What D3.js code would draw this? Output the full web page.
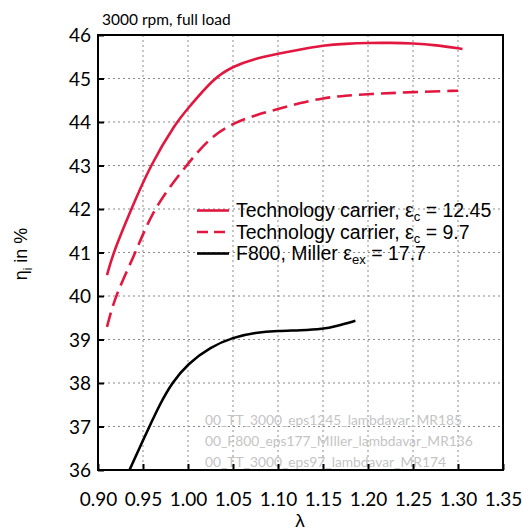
<!DOCTYPE html>
<html>
<head>
<meta charset="utf-8">
<script src="https://cdn.jsdelivr.net/npm/d3@7"></script>
<style>
  html, body { margin: 0; padding: 0; background: #fff; }
  svg { display: block; }
</style>
</head>
<body>
<svg id="chart" width="523" height="530"></svg>
<script>
// Indicated efficiency versus air ratio, 3000 rpm full load
const xTicks = [0.90, 0.95, 1.00, 1.05, 1.10, 1.15, 1.20, 1.25, 1.30, 1.35];
const yTicks = [36, 37, 38, 39, 40, 41, 42, 43, 44, 45, 46];

// Technology carrier, eps_c = 12.45
const lambdaTC1245 = [0.910, 0.917, 0.937, 0.958, 0.987, 1.000, 1.028, 1.050, 1.075, 1.100, 1.125, 1.150, 1.175, 1.200, 1.225, 1.250, 1.275, 1.305];
const etaTC1245    = [40.48, 41.00, 42.00, 43.00, 44.00, 44.31, 45.00, 45.28, 45.46, 45.57, 45.67, 45.76, 45.80, 45.82, 45.82, 45.81, 45.77, 45.68];

// Technology carrier, eps_c = 9.7
const lambdaTC97 = [0.910, 0.919, 0.942, 0.961, 0.998, 1.025, 1.050, 1.075, 1.100, 1.125, 1.150, 1.175, 1.200, 1.250, 1.300];
const etaTC97    = [39.29, 40.00, 41.00, 42.00, 43.00, 43.66, 43.97, 44.16, 44.30, 44.44, 44.55, 44.61, 44.64, 44.69, 44.72];

// F800, Miller eps_ex = 17.7
const lambdaF800 = [0.935, 0.957, 0.970, 0.982, 1.000, 1.025, 1.050, 1.075, 1.100, 1.125, 1.150, 1.165, 1.186];
const etaF800    = [36.00, 37.00, 37.56, 38.00, 38.45, 38.83, 39.05, 39.16, 39.20, 39.21, 39.24, 39.31, 39.43];

const fileNames = [
  "00_TT_3000_eps1245_lambdavar_MR185",
  "00_F800_eps177_MIller_lambdavar_MR136",
  "00_TT_3000_eps97_lambdavar_MR174"
];

const RED = "#e2173f";
const series = [
  { x: lambdaTC1245, y: etaTC1245, color: RED, dash: null, main: "Technology carrier, ε", sub: "c", tail: " = 12.45" },
  { x: lambdaTC97,   y: etaTC97,   color: RED, dash: "15,7", main: "Technology carrier, ε", sub: "c", tail: " = 9.7" },
  { x: lambdaF800,   y: etaF800,   color: "#000", dash: null, main: "F800, Miller ε", sub: "ex", tail: " = 17.7" }
];

const svg = d3.select("#chart");
const m = { left: 98, right: 503, top: 35, bottom: 470 };

const x = d3.scaleLinear().domain([0.90, 1.35]).range([m.left, m.right]);
const y = d3.scaleLinear().domain([36, 46]).range([m.bottom, m.top]);

const tickFont = "Lato, 'Open Sans', sans-serif";
const legFont = "'Liberation Sans', Arial, sans-serif";

// grid
const grid = svg.append("g");
grid.selectAll("line.vx").data(xTicks.slice(1, -1)).join("line")
  .attr("x1", d => x(d)).attr("x2", d => x(d))
  .attr("y1", m.top).attr("y2", m.bottom)
  .attr("stroke", "#8a8a8a").attr("stroke-width", 1).attr("stroke-dasharray", "2,3");
grid.selectAll("line.hy").data(yTicks.slice(1, -1)).join("line")
  .attr("x1", m.left).attr("x2", m.right)
  .attr("y1", d => y(d)).attr("y2", d => y(d))
  .attr("stroke", "#8a8a8a").attr("stroke-width", 1).attr("stroke-dasharray", "2,3");

// file names
svg.append("g").selectAll("text").data(fileNames).join("text")
  .attr("x", 205).attr("y", (d, i) => 425 + i * 21)
  .attr("font-family", tickFont).attr("font-size", 13.8)
  .attr("fill", "#c4c4c4")
  .text(d => d);

// curves
const clipId = "plotclip";
svg.append("clipPath").attr("id", clipId).append("rect")
  .attr("x", m.left).attr("y", m.top).attr("width", m.right - m.left).attr("height", m.bottom - m.top);

const line = d3.line().x(d => x(d[0])).y(d => y(d[1])).curve(d3.curveBasis);
const curves = svg.append("g").attr("clip-path", `url(#${clipId})`);
series.forEach(s => {
  curves.append("path")
    .attr("d", line(s.x.map((v, i) => [v, s.y[i]])))
    .attr("fill", "none").attr("stroke", s.color).attr("stroke-width", 2.6)
    .attr("stroke-dasharray", s.dash);
});

// axes (ticks pointing inward)
const xAxis = d3.axisBottom(x).tickValues(xTicks).tickSize(-6).tickFormat(d3.format(".2f"));
const yAxis = d3.axisLeft(y).tickValues(yTicks).tickSize(-6).tickFormat(d3.format("d"));

const gx = svg.append("g").attr("transform", `translate(0,${m.bottom})`).call(xAxis);
gx.select(".domain").remove();
gx.selectAll(".tick line").attr("stroke", "#000").attr("stroke-width", 2);
gx.selectAll(".tick text").attr("y", 36).attr("dy", 0)
  .attr("font-family", tickFont).attr("font-size", 19).attr("fill", "#000");

const gy = svg.append("g").attr("transform", `translate(${m.left},0)`).call(yAxis);
gy.select(".domain").remove();
gy.selectAll(".tick line").attr("stroke", "#000").attr("stroke-width", 2);
gy.selectAll(".tick text").attr("x", -7).attr("dy", "0.35em")
  .attr("font-family", tickFont).attr("font-size", 19).attr("fill", "#000");

// frame
svg.append("rect")
  .attr("x", m.left).attr("y", m.top)
  .attr("width", m.right - m.left).attr("height", m.bottom - m.top)
  .attr("fill", "none").attr("stroke", "#000").attr("stroke-width", 2);

// legend
const legRows = [210.5, 232, 253.5];
const leg = svg.append("g");
series.forEach((s, i) => {
  const yy = legRows[i];
  leg.append("line")
    .attr("x1", 197).attr("x2", 229).attr("y1", yy).attr("y2", yy)
    .attr("stroke", s.color).attr("stroke-width", 2.6)
    .attr("stroke-dasharray", s.dash ? "11,6" : null);
  const t = leg.append("text")
    .attr("x", 236).attr("y", yy + 6.5)
    .attr("font-family", legFont)
    .attr("font-size", 19.5).attr("fill", "#000");
  t.append("tspan").text(s.main);
  t.append("tspan").attr("dy", 4).attr("font-size", 13).text(s.sub);
  t.append("tspan").attr("dy", -4).text(s.tail);
});

// titles
svg.append("text").attr("x", 102).attr("y", 25)
  .attr("font-family", tickFont).attr("font-size", 15.5).attr("fill", "#000")
  .text("3000 rpm, full load");

svg.append("text").attr("x", 300).attr("y", 527).attr("text-anchor", "middle")
  .attr("font-family", legFont).attr("font-size", 19).attr("fill", "#000")
  .text("λ");

const yl = svg.append("text")
  .attr("transform", "translate(27,254) rotate(-90)")
  .attr("text-anchor", "middle")
  .attr("font-family", legFont).attr("font-size", 18).attr("fill", "#000");
yl.append("tspan").text("η");
yl.append("tspan").attr("dy", 5).attr("font-size", 12).text("i");
yl.append("tspan").attr("dy", -5).text(" in %");
</script>
</body>
</html>
